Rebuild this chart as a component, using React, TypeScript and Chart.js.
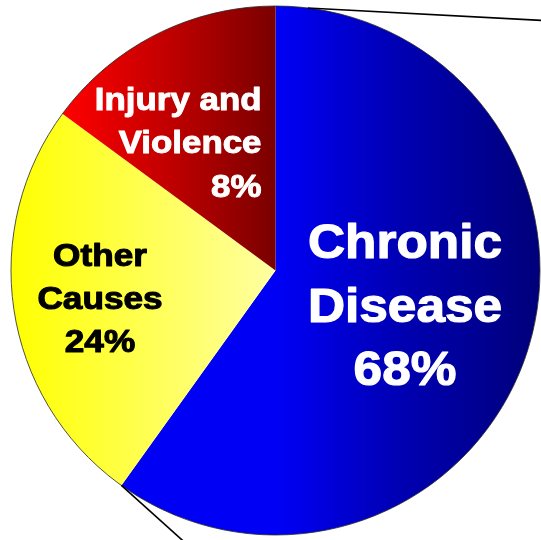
import React, { useEffect, useRef } from "react";
import { Chart, registerables } from "chart.js";

Chart.register(...registerables);

// Categories, in clockwise order from 12 o'clock
const categories = ["Chronic Disease", "Other Causes", "Injury and Violence"];
// Slice shares as drawn in the picture (degrees of arc, expressed in %)
const sliceShares = [59.9, 25.2, 14.9];
// Printed percentage labels
const percentLabels = ["68%", "24%", "8%"];
// Label lines (category name split as shown)
const nameLines = [["Chronic", "Disease"], ["Other", "Causes"], ["Injury and", "Violence"]];

const FONT = "'Liberation Sans', Arial, Helvetica, sans-serif";

export default function App() {
  const ref = useRef<HTMLCanvasElement | null>(null);

  useEffect(() => {
    document.body.style.margin = "0";
    const canvas = ref.current;
    if (!canvas) return;

    const gradFor = (index: number, chart: any) => {
      const area = chart.chartArea;
      if (!area) return "#000";
      const c = chart.ctx;
      const cx = (area.left + area.right) / 2;
      const r = (area.right - area.left) / 2;
      let g;
      if (index === 0) {
        g = c.createLinearGradient(cx + 0.02 * r, 0, cx + r, 0);
        g.addColorStop(0, "#0000f4");
        g.addColorStop(0.45, "#0000b4");
        g.addColorStop(1, "#00007a");
      } else if (index === 1) {
        g = c.createLinearGradient(cx - r, 0, cx, 0);
        g.addColorStop(0, "#ffff00");
        g.addColorStop(1, "#ffffa2");
      } else {
        g = c.createLinearGradient(cx - 0.8 * r, 0, cx, 0);
        g.addColorStop(0, "#ff0000");
        g.addColorStop(0.5, "#c00000");
        g.addColorStop(1, "#7a0000");
      }
      return g;
    };

    const labelPlugin = {
      id: "sliceLabels",
      afterDraw(chart: any) {
        const meta = chart.getDatasetMeta(0);
        const arc0 = meta.data[0];
        if (!arc0) return;
        const { x: cx, y: cy, outerRadius: r } = arc0.getProps(["x", "y", "outerRadius"], true);
        const c = chart.ctx;
        c.save();

        // outline of the pie
        c.beginPath();
        c.arc(cx, cy, r, 0, Math.PI * 2);
        c.lineWidth = 1;
        c.strokeStyle = "rgba(40,40,40,0.8)";
        c.stroke();

        // leader lines to the (cropped) breakdown
        c.strokeStyle = "#000";
        c.lineWidth = 1.6;
        const a1 = (7 * Math.PI) / 180;
        const p1x = cx + r * Math.sin(a1);
        const p1y = cy - r * Math.cos(a1);
        c.beginPath();
        c.moveTo(p1x, p1y);
        c.lineTo(chart.width + 5, p1y + (chart.width + 5 - p1x) * 0.053);
        c.stroke();
        const endAngle = arc0.getProps(["endAngle"], true).endAngle;
        const p2x = cx + r * Math.cos(endAngle);
        const p2y = cy + r * Math.sin(endAngle);
        c.beginPath();
        c.moveTo(p2x, p2y);
        c.lineTo(p2x + (chart.height + 5 - p2y) * (59 / 53), chart.height + 5);
        c.stroke();

        const drawLine = (txt: string, x: number, y: number, size: number, sx: number, align: string, color: string, weight: number) => {
          c.save();
          c.font = `bold ${size}px ${FONT}`;
          c.fillStyle = color;
          c.strokeStyle = color;
          c.lineWidth = weight;
          c.lineJoin = "round";
          c.textAlign = align;
          c.textBaseline = "alphabetic";
          c.translate(x, y);
          c.scale(sx, 1);
          c.fillText(txt, 0, 0);
          c.strokeText(txt, 0, 0);
          c.restore();
        };

        // Chronic Disease
        const chronic = [...nameLines[0], percentLabels[0]];
        const cb = [-12.5, 51.5, 114.5];
        chronic.forEach((t, i) => drawLine(t, cx + 129.5, cy + cb[i], 48, 1.07, "center", "#ffffff", 1.2));

        // Other Causes
        const other = [...nameLines[1], percentLabels[1]];
        const ob = [-4.5, 38.5, 81.5];
        other.forEach((t, i) => drawLine(t, cx - 175.5, cy + ob[i], 32, 1.1, "center", "#000000", 1.1));

        // Injury and Violence
        const injury = [...nameLines[2], percentLabels[2]];
        const ib = [-160.5, -117.5, -73.5];
        injury.forEach((t, i) => drawLine(t, cx - 14, cy + ib[i], 32, 1.09, "right", "#ffffff", 1.0));

        c.restore();
      },
    };

    const chart = new Chart(canvas, {
      type: "pie",
      data: {
        labels: categories,
        datasets: [
          {
            data: sliceShares,
            backgroundColor: (ctx: any) => gradFor(ctx.dataIndex, ctx.chart),
            borderWidth: 0,
          },
        ],
      },
      options: {
        responsive: false,
        animation: false,
        layout: { padding: { left: 11, right: 1, top: 6, bottom: 5 } },
        plugins: {
          legend: { display: false },
          tooltip: { enabled: false },
          title: { display: false },
        },
      },
      plugins: [labelPlugin],
    } as any);

    return () => chart.destroy();
  }, []);

  return (
    <div style={{ width: 541, height: 540, background: "#ffffff" }}>
      <canvas ref={ref} width={541} height={540} style={{ display: "block" }} />
    </div>
  );
}
